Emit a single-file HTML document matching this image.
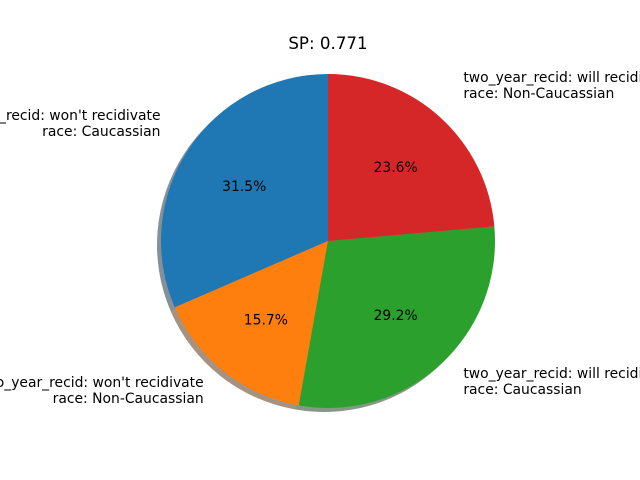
<!DOCTYPE html>
<html><head><meta charset="utf-8"><style>
html,body{margin:0;padding:0;background:#fff}
svg{display:block;font-family:"DejaVu Sans","Liberation Sans",sans-serif}
</style></head><body>
<svg id="chart" width="640" height="480" viewBox="0 0 640 480">
<text x="328" y="49" text-anchor="middle" font-size="16.7" fill="#000">SP: 0.771</text>
<g id="shadows"></g>
<g id="slices"></g>
<g id="labels"></g>
</svg>
<script>
const categories = ["two_year_recid: won't recidivate\nrace: Caucassian","two_year_recid: won't recidivate\nrace: Non-Caucassian","two_year_recid: will recidivate\nrace: Caucassian","two_year_recid: will recidivate\nrace: Non-Caucassian"];
const values = [31.5, 15.7, 29.2, 23.6];
const colors = ["#1f77b4","#ff7f0e","#2ca02c","#d62728"];
const sliceNames = ["slice-wont-caucassian","slice-wont-non-caucassian","slice-will-caucassian","slice-will-non-caucassian"];
const NS="http://www.w3.org/2000/svg";
const cx=328, cy=241, r=167;
const total=values.reduce((a,b)=>a+b,0);
function pt(a,rad,ox=0,oy=0){return [cx+ox+rad*Math.cos(a), cy+oy-rad*Math.sin(a)];}
function arc(a0,a1,ox,oy){
  const p0=pt(a0,r,ox,oy), p1=pt(a1,r,ox,oy);
  const large=(a1-a0)>Math.PI?1:0;
  return `M${cx+ox},${cy+oy}L${p0[0]},${p0[1]}A${r},${r} 0 ${large} 0 ${p1[0]},${p1[1]}Z`;
}
function dark(h){const n=parseInt(h.slice(1),16);return `rgb(${Math.round(((n>>16)&255)*0.3)},${Math.round(((n>>8)&255)*0.3)},${Math.round((n&255)*0.3)})`;}
const sh=document.getElementById('shadows'), sl=document.getElementById('slices'), lb=document.getElementById('labels');
let a=Math.PI/2;
values.forEach((v,i)=>{
  const da=v/total*2*Math.PI, a1=a+da, mid=a+da/2;
  const s=document.createElementNS(NS,'path');
  s.setAttribute('d',arc(a,a1,-4,4));s.setAttribute('fill',dark(colors[i]));s.setAttribute('fill-opacity','0.5');
  
  
  sh.appendChild(s);
  const p=document.createElementNS(NS,'path');
  p.setAttribute('d',arc(a,a1,0,0));p.setAttribute('fill',colors[i]);
  
  
  sl.appendChild(p);
  const pp=pt(mid,0.6*r);
  const t=document.createElementNS(NS,'text');
  t.setAttribute('x',pp[0]);t.setAttribute('y',pp[1]+5);t.setAttribute('text-anchor','middle');t.setAttribute('font-size','13.9');
  t.textContent=v.toFixed(1)+'%';
  
  
  lb.appendChild(t);
  const lp=pt(mid,1.2*r);
  const right=Math.cos(mid)>=0;
  const lt=document.createElementNS(NS,'text');
  lt.setAttribute('font-size','13.9');lt.setAttribute('text-anchor',right?'start':'end');
  
  
  const lines=categories[i].split('\n');
  lines.forEach((ln,k)=>{
    const ts=document.createElementNS(NS,'tspan');
    ts.setAttribute('x',lp[0]);ts.setAttribute('y',lp[1]-12+k*16+5-4);
    ts.textContent=ln;lt.appendChild(ts);
  });
  lb.appendChild(lt);
  a=a1;
});
</script>
</body></html>
